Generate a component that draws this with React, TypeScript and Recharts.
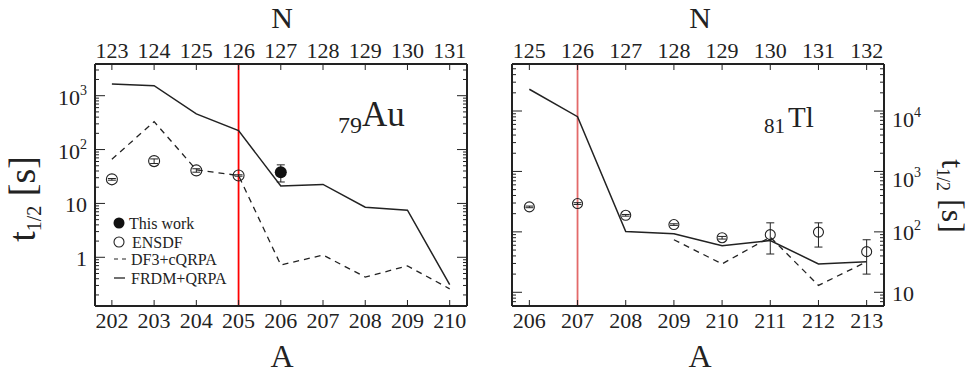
import React from 'react';
import {
  ComposedChart,
  ErrorBar,
  Line,
  ReferenceLine,
  Scatter,
  XAxis,
  YAxis,
} from 'recharts';

// 79Au panel
const auA = [202, 203, 204, 205, 206, 207, 208, 209, 210];
const auFrdm = [1650, 1530, 460, 225, 21, 22.5, 8.5, 7.5, 0.31];
const auDf3 = [66, 330, 42, 33, 0.72, 1.1, 0.43, 0.69, 0.26];
const auEnsdfA = [202, 203, 204, 205];
const auEnsdf = [28, 61, 41, 33];
const auEnsdfErr = [[1, 1], [6, 6], [3, 3], [1, 1]];
const auWorkA = [206];
const auWork = [38];
const auWorkErr = [[13, 14]];

// 81Tl panel
const tlA = [206, 207, 208, 209, 210, 211, 212, 213];
const tlFrdm = [22900, 8050, 101, 93, 59, 72, 29.5, 32];
const tlDf3 = [null, null, null, 74, 29.5, 82, 13, 32];
const tlEnsdf = [259, 294, 188, 132, 80, 90, 99, 47];
const tlEnsdfErr = [[8, 8], [10, 10], [6, 6], [4, 4], [4, 4], [47, 51], [43, 42], [27, 27]];

const FONT = '"Liberation Serif", "Times New Roman", "DejaVu Serif", serif';
const INK = '#222';

const auRows = auA.map((a, i) => ({ a, frdm: auFrdm[i], df3: auDf3[i] }));
const auEnsdfRows = auEnsdfA.map((a, i) => ({ a, v: auEnsdf[i], err: auEnsdfErr[i] }));
const auWorkRows = auWorkA.map((a, i) => ({ a, v: auWork[i], err: auWorkErr[i] }));
const tlRows = tlA.map((a, i) => ({ a, frdm: tlFrdm[i], df3: tlDf3[i] }));
const tlEnsdfRows = tlA.map((a, i) => ({ a, v: tlEnsdf[i], err: tlEnsdfErr[i] }));

// 1..9 x 10^k ticks inside [lo, hi]
function logTicks(lo: number, hi: number) {
  const out: number[] = [];
  for (let e = Math.floor(Math.log10(lo)); e <= Math.ceil(Math.log10(hi)); e++) {
    for (let m = 1; m <= 9; m++) {
      const v = m * Math.pow(10, e);
      if (v >= lo && v <= hi) out.push(v);
    }
  }
  return out;
}

const isDecade = (v: number) => {
  const e = Math.log10(v);
  return Math.abs(e - Math.round(e)) < 1e-6;
};

const serif = { fontFamily: FONT };

function PowText({ x, y, v, anchor }: any) {
  const e = Math.round(Math.log10(v));
  return (
    <text x={x} y={y} textAnchor={anchor} style={serif} fontSize={22} fill={INK}>
      {e === 0 ? '1' : '10'}
      {e > 1 && (
        <tspan fontSize={14} dy={-10}>
          {e}
        </tspan>
      )}
    </text>
  );
}

function YTick({ x, y, payload, side, label, shift }: any) {
  const v = payload.value;
  const major = isDecade(v);
  const len = major ? 10 : 4;
  const dir = side === 'left' ? 1 : -1;
  const dy = shift ? shift[Math.round(Math.log10(v))] ?? 9 : 9;
  return (
    <g>
      <line x1={x} x2={x + dir * len} y1={y} y2={y} stroke={INK} strokeWidth={1} />
      {major && label && (
        <PowText x={x - dir * 8} y={y + dy} v={v} anchor={side === 'left' ? 'end' : 'start'} />
      )}
    </g>
  );
}

function XTick({ x, y, payload, side, offset }: any) {
  const dir = side === 'bottom' ? -1 : 1;
  return (
    <g>
      <line x1={x} x2={x} y1={y} y2={y + dir * 6} stroke={INK} strokeWidth={1} />
      <text
        x={x}
        y={side === 'bottom' ? y + 22 : y - 6}
        textAnchor="middle"
        style={serif}
        fontSize={22}
        fill={INK}
      >
        {payload.value - offset}
      </text>
    </g>
  );
}

const openCircle = (r: number) => (p: any) =>
  <circle cx={p.cx} cy={p.cy} r={r} fill="#fff" fillOpacity={0} stroke={INK} strokeWidth={1.1} />;
const fullCircle = (p: any) => <circle cx={p.cx} cy={p.cy} r={6} fill="#111" />;

const axisLine = { stroke: INK, strokeWidth: 2 };

function Panel({
  rows,
  xDomain,
  yDomain,
  ticksA,
  z,
  labelSide,
  margin,
  leftW,
  rightW,
  magic,
  redColor,
  children,
  shift,
}: any) {
  const yTicks = logTicks(yDomain[0], yDomain[1]);
  return (
    <ComposedChart width={margin.w} height={373} data={rows} margin={margin.m}>
      <XAxis
        xAxisId="a"
        dataKey="a"
        type="number"
        domain={xDomain}
        allowDataOverflow
        ticks={ticksA}
        interval={0}
        height={30}
        tickSize={0}
        tickMargin={0}
        axisLine={axisLine}
        tickLine={false}
        tick={(p: any) => <XTick {...p} side="bottom" offset={0} />}
      />
      <XAxis
        xAxisId="n"
        dataKey="a"
        type="number"
        orientation="top"
        domain={xDomain}
        allowDataOverflow
        ticks={ticksA}
        interval={0}
        height={20}
        tickSize={0}
        tickMargin={0}
        axisLine={axisLine}
        tickLine={false}
        tick={(p: any) => <XTick {...p} side="top" offset={z} />}
      />
      <YAxis
        yAxisId="l"
        type="number"
        scale="log"
        domain={yDomain}
        allowDataOverflow
        ticks={yTicks}
        interval={0}
        width={leftW}
        tickSize={0}
        tickMargin={0}
        axisLine={axisLine}
        tickLine={false}
        tick={(p: any) => <YTick {...p} side="left" label={labelSide === 'left'} />}
      />
      <YAxis
        yAxisId="r"
        orientation="right"
        type="number"
        scale="log"
        domain={yDomain}
        allowDataOverflow
        ticks={yTicks}
        interval={0}
        width={rightW}
        tickSize={0}
        tickMargin={0}
        axisLine={axisLine}
        tickLine={false}
        tick={(p: any) => <YTick {...p} side="right" label={labelSide === 'right'} shift={shift} />}
      />
      <ReferenceLine xAxisId="a" yAxisId="l" x={magic} stroke={redColor} strokeWidth={1.8} />
      <Line
        xAxisId="a"
        yAxisId="l"
        dataKey="frdm"
        type="linear"
        stroke={INK}
        strokeWidth={1.5}
        dot={false}
        isAnimationActive={false}
      />
      <Line
        xAxisId="a"
        yAxisId="l"
        dataKey="df3"
        type="linear"
        stroke={INK}
        strokeWidth={1.3}
        strokeDasharray="6 5"
        dot={false}
        isAnimationActive={false}
      />
      {children}
    </ComposedChart>
  );
}

export default function App() {
  return (
    <div
      style={{
        position: 'absolute',
        left: 0,
        top: 0,
        width: 971,
        height: 373,
        background: '#fff',
        overflow: 'hidden',
        fontFamily: FONT,
      }}
    >
      <div style={{ position: 'absolute', left: 0, top: 0 }}>
        <Panel
          rows={auRows}
          xDomain={[201.6, 210.41]}
          yDomain={[0.1247, 3875]}
          ticksA={auA}
          z={79}
          labelSide="left"
          margin={{ w: 490, m: { top: 44, right: 13, bottom: 37, left: 35 } }}
          leftW={60}
          rightW={10}
          magic={205}
          redColor="#f00"
        >
          <Scatter
            xAxisId="a"
            yAxisId="l"
            data={auEnsdfRows}
            dataKey="v"
            shape={openCircle(5.5)}
            isAnimationActive={false}
          >
            <ErrorBar dataKey="err" direction="y" width={4} stroke={INK} strokeWidth={1} />
          </Scatter>
          <Scatter
            xAxisId="a"
            yAxisId="l"
            data={auWorkRows}
            dataKey="v"
            shape={fullCircle}
            isAnimationActive={false}
          >
            <ErrorBar dataKey="err" direction="y" width={4} stroke={INK} strokeWidth={1} />
          </Scatter>
        </Panel>
      </div>
      <div style={{ position: 'absolute', left: 480, top: 0 }}>
        <Panel
          rows={tlRows}
          xDomain={[205.64, 213.36]}
          yDomain={[5.93, 59970]}
          ticksA={tlA}
          z={81}
          labelSide="right"
          margin={{ w: 491, m: { top: 44, right: 27, bottom: 37, left: 22 } }}
          leftW={10}
          rightW={60}
          magic={207}
          redColor="#e36a6a"
          shift={{ 1: 9, 2: 8, 3: 16, 4: 16 }}
        >
          <Scatter
            xAxisId="a"
            yAxisId="l"
            data={tlEnsdfRows}
            dataKey="v"
            shape={openCircle(5)}
            isAnimationActive={false}
          >
            <ErrorBar dataKey="err" direction="y" width={4} stroke={INK} strokeWidth={1} />
          </Scatter>
        </Panel>
      </div>
      <svg
        width={971}
        height={373}
        style={{ position: 'absolute', left: 0, top: 0, pointerEvents: 'none', fontFamily: FONT }}
        fill={INK}
      >
        <text x={282} y={28} fontSize={30} textAnchor="middle">N</text>
        <text x={700} y={28} fontSize={30} textAnchor="middle">N</text>
        <text x={282} y={367} fontSize={32} textAnchor="middle">A</text>
        <text x={700} y={367} fontSize={32} textAnchor="middle">A</text>

        <text transform="translate(35,199) rotate(-90)" textAnchor="middle" fontSize={38}>
          t<tspan fontSize={20} dy={6}>1/2</tspan>
          <tspan dy={-6}> [s]</tspan>
        </text>
        <text transform="translate(942,196) rotate(90)" textAnchor="middle" fontSize={32}>
          t<tspan fontSize={18} dy={5}>1/2</tspan>
          <tspan dy={-5}> [s]</tspan>
        </text>

        <text x={338} y={133} fontSize={24}>79</text>
        <text x={362} y={126} fontSize={35}>Au</text>
        <text x={764} y={133} fontSize={21}>81</text>
        <text x={788} y={127} fontSize={29}>Tl</text>

        <circle cx={119} cy={223} r={5.5} fill="#111" />
        <text x={129} y={229} fontSize={16}>This work</text>
        <circle cx={119} cy={242} r={5} fill="none" stroke={INK} strokeWidth={1.1} />
        <text x={132} y={248} fontSize={16}>ENSDF</text>
        <line x1={114} x2={126} y1={259} y2={259} stroke={INK} strokeWidth={1.2} strokeDasharray="4 4" />
        <text x={131} y={265} fontSize={16}>DF3+cQRPA</text>
        <line x1={114} x2={125} y1={278} y2={278} stroke={INK} strokeWidth={1.3} />
        <text x={131} y={284} fontSize={16}>FRDM+QRPA</text>
      </svg>
    </div>
  );
}
